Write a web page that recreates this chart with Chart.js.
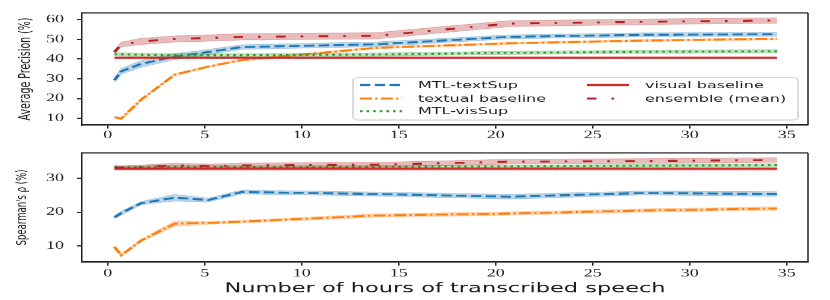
<!DOCTYPE html>
<html><head><meta charset="utf-8">
<script src="https://cdn.jsdelivr.net/npm/chart.js@4/dist/chart.umd.min.js"></script>
<style>
html,body{margin:0;padding:0;background:#fff;width:830px;height:300px;overflow:hidden}
canvas{position:absolute;left:0;display:block}
</style></head><body>
<canvas id="c1" width="830" height="238" style="top:0px;width:830px;height:140px"></canvas>
<canvas id="c2" width="830" height="272" style="top:140px;width:830px;height:160px"></canvas>
<script>
// ---------- data ----------
const hours = [0.345, 0.69, 1.725, 3.45, 5.175, 6.9, 13.8, 20.7, 27.6, 34.5];
const xTicks = [0, 5, 10, 15, 20, 25, 30, 35];
const apTicks = [10, 20, 30, 40, 50, 60];
const spTicks = [10, 20, 30];
const seriesLabels = ['MTL-textSup', 'textual baseline', 'MTL-visSup', 'visual baseline', 'ensemble (mean)'];

// Average precision (%) : mean and spread
const apTextSup     = [29.3, 33.8, 37.6, 41.3, 43.6, 46.1, 47.5, 51.3, 52.3, 52.6];
const apTextSupStd  = [1.0, 1.5, 1.8, 1.5, 1.3, 1.2, 1.2, 1.0, 1.0, 1.0];
const apTextual     = [10.6, 9.8, 19.5, 32.1, 36.2, 39.5, 45.7, 48.0, 49.4, 50.3];
const apTextualStd  = [0.5, 0.5, 0.5, 0.6, 0.5, 0.5, 0.5, 0.5, 0.5, 0.5];
const apVisSup      = [42.5, 42.4, 42.2, 42.0, 42.0, 42.0, 42.3, 43.2, 43.7, 44.0];
const apVisSupStd   = [0.8, 0.8, 0.8, 0.8, 0.8, 0.8, 0.8, 0.8, 0.8, 0.8];
const apVisual      = [40.7, 40.7, 40.7, 40.7, 40.7, 40.7, 40.7, 40.7, 40.7, 40.7];
const apVisualStd   = [0.4, 0.4, 0.4, 0.4, 0.4, 0.4, 0.4, 0.4, 0.4, 0.4];
const apEnsemble    = [43.6, 47.4, 49.0, 50.2, 50.7, 51.3, 51.8, 58.0, 58.9, 59.6];
const apEnsembleStd = [0.8, 1.2, 1.6, 1.6, 1.6, 1.6, 1.6, 1.5, 1.4, 1.4];

// Spearman's rho (%) : mean and spread
const spTextSup     = [18.5, 19.7, 22.7, 24.3, 23.6, 26.0, 25.4, 24.6, 25.7, 25.4];
const spTextSupStd  = [0.5, 0.6, 0.5, 1.0, 0.6, 0.6, 0.6, 0.7, 0.6, 0.7];
const spTextual     = [9.7, 7.2, 11.6, 16.6, 16.8, 17.2, 19.0, 19.6, 20.5, 21.1];
const spTextualStd  = [0.4, 0.4, 0.4, 0.8, 0.4, 0.4, 0.5, 0.5, 0.5, 0.5];
const spVisSup      = [33.5, 33.4, 33.4, 33.5, 33.5, 33.4, 33.5, 33.6, 33.8, 34.0];
const spVisSupStd   = [0.4, 0.4, 0.4, 0.4, 0.4, 0.4, 0.4, 0.4, 0.4, 0.4];
const spVisual      = [32.9, 32.9, 32.9, 32.9, 32.9, 32.9, 32.9, 32.9, 32.9, 32.9];
const spVisualStd   = [0.4, 0.4, 0.4, 0.4, 0.4, 0.4, 0.4, 0.4, 0.4, 0.4];
const spEnsemble    = [33.2, 33.2, 33.4, 33.9, 33.7, 33.9, 34.1, 35.0, 35.2, 35.5];
const spEnsembleStd = [0.5, 0.5, 0.6, 0.7, 0.6, 0.7, 0.7, 0.7, 0.7, 0.7];

// ---------- styles ----------
const styles = [
  {color: '#1f77b4', band: 'rgba(31,119,180,0.3)',  dash: [10.3, 4.5]},
  {color: '#ff7f0e', band: 'rgba(255,127,14,0.3)',  dash: [12, 3.2, 2.4, 3.2]},
  {color: '#2ca02c', band: 'rgba(44,160,44,0.3)',   dash: [2.6, 4]},
  {color: '#d62728', band: 'rgba(214,39,40,0.3)',   dash: []},
  {color: '#b22222', band: 'rgba(178,34,34,0.3)',   dash: [9.5, 15, 2.6, 15.5]}
];
const LW = 3.3;

function buildDatasets(means, stds) {
  const ds = [];
  means.forEach((m, i) => {
    const st = styles[i];
    ds.push({label: seriesLabels[i] + ' upper', data: hours.map((h, j) => ({x: h, y: m[j] + stds[i][j]})),
      borderColor: st.band, borderWidth: 1, pointRadius: 0, fill: false, tension: 0});
    ds.push({label: seriesLabels[i] + ' lower', data: hours.map((h, j) => ({x: h, y: m[j] - stds[i][j]})),
      borderColor: st.band, borderWidth: 1, pointRadius: 0, fill: '-1', backgroundColor: st.band, tension: 0});
    ds.push({label: seriesLabels[i], data: hours.map((h, j) => ({x: h, y: m[j]})),
      borderColor: st.color, borderWidth: LW, borderDash: st.dash, pointRadius: 0, fill: false, tension: 0,
      borderCapStyle: 'butt'});
  });
  const n = ds.length;
  ds.forEach((d, k) => { d.order = n - k; });
  return ds;
}

const tickFont = {family: 'Liberation Serif', size: 18, lineHeight: 1};
const INK = '#222';

const framePlugin = {
  id: 'frame',
  afterDraw(chart) {
    const {ctx, chartArea: a} = chart;
    ctx.save();
    ctx.strokeStyle = '#333';
    ctx.lineWidth = 1.8;
    ctx.beginPath(); ctx.moveTo(a.left, a.top); ctx.lineTo(a.right, a.top); ctx.stroke();
    ctx.lineWidth = 1.5;
    ctx.strokeStyle = INK;
    ctx.beginPath(); ctx.moveTo(a.right, a.top); ctx.lineTo(a.right, a.bottom); ctx.stroke();
    ctx.restore();
  }
};

const legendPlugin = {
  id: 'customLegend',
  afterDraw(chart) {
    const ctx = chart.ctx;
    ctx.save();
    ctx.fillStyle = 'rgba(255,255,255,0.85)';
    ctx.strokeStyle = '#cccccc';
    ctx.lineWidth = 1.4;
    ctx.beginPath();
    ctx.roundRect(353, 132, 445, 72, 5);
    ctx.fill(); ctx.stroke();
    const rows = [144.5, 167.5, 189];
    const pos = [[360, 0], [360, 1], [360, 2], [587, 0], [587, 1]];
    ctx.font = '16px "DejaVu Sans"';
    ctx.textBaseline = 'middle';
    pos.forEach((p, i) => {
      const st = styles[i];
      const y = rows[p[1]];
      ctx.strokeStyle = st.color;
      ctx.lineWidth = LW;
      ctx.setLineDash(st.dash);
      ctx.lineCap = 'butt';
      ctx.beginPath(); ctx.moveTo(p[0], y); ctx.lineTo(p[0] + 42, y); ctx.stroke();
      ctx.setLineDash([]);
      ctx.fillStyle = INK;
      ctx.fillText(seriesLabels[i], p[0] + 58, y + 1);
    });
    ctx.restore();
  }
};

function makeChart(id, datasets, o) {
  return new Chart(document.getElementById(id), {
    type: 'line',
    data: {datasets},
    plugins: [framePlugin].concat(o.extraPlugins || []),
    options: {
      responsive: false, animation: false, devicePixelRatio: 1,
      layout: {padding: {top: o.padTop, right: 22, left: 0, bottom: 0}},
      plugins: {legend: {display: false}, tooltip: {enabled: false}},
      scales: {
        x: {
          type: 'linear', min: -1.33, max: 36.1,
          afterFit(s) { s.height = o.xHeight; },
          afterBuildTicks(s) { s.ticks = xTicks.map(v => ({value: v})); },
          ticks: {font: tickFont, color: INK, padding: o.xPad, maxRotation: 0},
          grid: {display: true, drawOnChartArea: false, drawTicks: true, tickLength: 6, color: INK, lineWidth: 1.5},
          border: {display: true, color: INK, width: 2.5},
          title: o.xTitle ? {display: true, text: o.xTitle, color: '#1a1a1a',
            font: {family: 'DejaVu Sans', size: 22.5, lineHeight: 1.2}, padding: {top: 0, bottom: 5}} : {display: false}
        },
        y: {
          min: o.yMin, max: o.yMax,
          afterFit(s) { s.width = 82; },
          afterBuildTicks(s) { s.ticks = o.yTicks.map(v => ({value: v})); },
          ticks: {font: tickFont, color: INK, padding: 13},
          grid: {display: true, drawOnChartArea: false, drawTicks: true, tickLength: 5, color: INK, lineWidth: 2},
          border: {display: true, color: INK, width: 1.5},
          title: {display: true, text: o.yTitle, color: '#1a1a1a',
            font: {family: 'DejaVu Sans', size: o.yTitleSize, lineHeight: 1.2}, padding: {top: o.yTitlePad, bottom: 0}}
        }
      }
    }
  });
}

makeChart('c1', buildDatasets(
  [apTextSup, apTextual, apVisSup, apVisual, apEnsemble],
  [apTextSupStd, apTextualStd, apVisSupStd, apVisualStd, apEnsembleStd]), {
  padTop: 17, xHeight: 25.5, xPad: 2.5, yMin: 6.6, yMax: 63.4, yTicks: apTicks,
  yTitle: 'Average Precision (%)', yTitleSize: 16, yTitlePad: 16, extraPlugins: [legendPlugin]
});

makeChart('c2', buildDatasets(
  [spTextSup, spTextual, spVisSup, spVisual, spEnsemble],
  [spTextSupStd, spTextualStd, spVisSupStd, spVisualStd, spEnsembleStd]), {
  padTop: 11.9, xHeight: 64.6, xPad: 4.7, yMin: 5.2, yMax: 37.6, yTicks: spTicks,
  yTitle: "Spearman's ρ (%)", yTitleSize: 14.5, yTitlePad: 13.5, xTitle: 'Number of hours of transcribed speech'
});
</script>
</body></html>
